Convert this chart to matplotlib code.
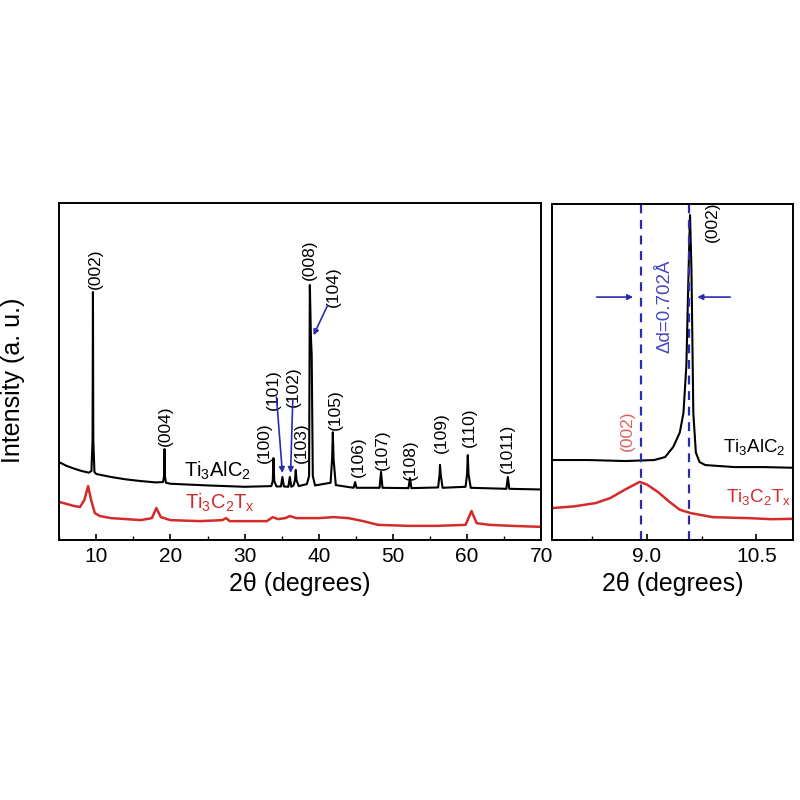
import matplotlib
matplotlib.use("Agg")
import matplotlib.pyplot as plt
from matplotlib.ticker import MultipleLocator, FormatStrFormatter

plt.rcParams['font.family'] = ['Liberation Sans', 'DejaVu Sans']
plt.rcParams['mathtext.fontset'] = 'custom'
plt.rcParams['mathtext.rm'] = 'Liberation Sans'
plt.rcParams['mathtext.it'] = 'Liberation Sans'

BLUE = '#2b2bb0'
RED = '#d42a2a'

# ---- full scan, Ti3AlC2 (black) ----
alc_x = [5, 6, 7, 8, 9, 9.35, 9.5, 9.55, 9.6, 9.75, 10, 12, 14, 16, 18,
         19.0, 19.15, 19.2, 19.25, 19.4, 20, 25, 30, 33.6, 33.8, 33.9, 34.0,
         34.3, 34.9, 35.1, 35.3, 35.9, 36.1, 36.3, 36.6, 36.8, 36.9, 37.0,
         37.3, 38.4, 38.7, 38.8, 38.95, 39.05, 39.2, 39.5, 41.6, 41.8, 41.9,
         42.0, 42.3, 44.7, 44.9, 45.1, 48.2, 48.4, 48.6, 52.1, 52.3, 52.5,
         56.1, 56.3, 56.35, 56.45, 56.7, 59.8, 60.0, 60.1, 60.2, 60.5, 65.3,
         65.5, 65.7, 70]
alc_y = [23.1, 22.0, 21.2, 20.5, 20.0, 20.5, 30, 73.6, 30, 20.2, 19.6, 18.7,
         18.0, 17.5, 17.1, 17.2, 19, 27.0, 19, 17.0, 16.7, 16.2, 15.8, 16.0,
         17.5, 24.3, 17.5, 15.9, 15.9, 18.7, 15.9, 15.8, 18.7, 15.8, 16.2,
         17.8, 20.8, 17.8, 16.0, 16.6, 19, 75.7, 60, 55, 19, 16.2, 17, 24,
         32.0, 24, 16.3, 15.5, 17.2, 15.5, 15.5, 20.2, 15.5, 15.4, 18.4, 15.4,
         15.6, 19.5, 22.3, 19.5, 15.5, 15.8, 19.5, 25.2, 19.5, 15.5, 15.2,
         18.7, 15.2, 15.0]

# ---- full scan, Ti3C2Tx (red) ----
ctx_x = [5, 6, 7, 7.8, 8.4, 8.9, 9.3, 9.8, 10.5, 12, 14, 16, 17.5, 18.1, 18.7,
         20, 24, 27, 27.5, 28, 30, 33, 33.8, 34.5, 35.5, 36.1, 37, 40, 42, 44,
         46, 48, 52, 56, 59.8, 60.6, 61.3, 63, 66, 70]
ctx_y = [11.3, 10.7, 10.1, 9.8, 11.9, 16.0, 11.9, 8.0, 7.1, 6.5, 6.2, 5.9,
         6.5, 9.5, 6.8, 5.9, 5.6, 5.9, 6.5, 5.6, 5.6, 5.6, 6.8, 6.2, 6.5, 7.1,
         6.5, 6.5, 6.8, 6.5, 5.6, 4.5, 4.2, 4.2, 4.5, 8.6, 5.0, 4.5, 4.2, 3.9]

# peak labels: (text, x, y of label bottom)
hkl_text = ['(002)', '(004)', '(100)', '(101)', '(102)', '(103)', '(008)',
            '(104)', '(105)', '(106)', '(107)', '(108)', '(109)', '(110)',
            '(1011)']
hkl_x = [9.9, 19.3, 32.7, 33.9, 36.6, 37.6, 38.8, 42.0, 42.2, 45.3, 48.6,
         52.4, 56.5, 60.3, 65.5]
hkl_y = [74.5, 28.0, 22.8, 38.6, 39.5, 22.8, 77.2, 69.1, 32.6, 18.7, 20.8,
         17.8, 25.8, 27.6, 19.9]

# ---- zoom on the (002) peak ----
zalc_x = [7.7, 8.2, 8.7, 9.1, 9.25, 9.36, 9.45, 9.5, 9.54, 9.57, 9.59, 9.61,
          9.635, 9.67, 9.72, 9.8, 10.2, 10.6, 11.0]
zalc_y = [23.8, 23.8, 23.5, 23.8, 24.7, 27.7, 32, 37.8, 52, 80, 96.7, 80,
          37.8, 26, 23.2, 22.3, 21.7, 21.7, 21.5]
zctx_x = [7.7, 8.0, 8.3, 8.5, 8.7, 8.9, 9.0, 9.15, 9.3, 9.45, 9.6, 9.9, 10.4,
          10.7, 11.0]
zctx_y = [9.5, 10.0, 11.0, 12.5, 15.0, 17.3, 16.5, 14.3, 11.5, 9.0, 8.0, 6.8,
          6.5, 6.2, 6.3]
peak_ctx = 8.92
peak_alc = 9.58

fig = plt.figure(figsize=(8, 8), dpi=100)
ax1 = fig.add_axes([0.074, 0.325, 0.6025, 0.421])
ax2 = fig.add_axes([0.69, 0.325, 0.30125, 0.42])

for ax in (ax1, ax2):
    for s in ax.spines.values():
        s.set_linewidth(1.4)
    ax.set_ylim(0, 100)
    ax.set_yticks([])
    ax.tick_params(axis='x', direction='in', which='major', length=4.5,
                   width=1.2, labelsize=15, pad=5)
    ax.tick_params(axis='x', direction='in', which='minor', length=2.8,
                   width=1.0)

ax1.plot(alc_x, alc_y, color='black', lw=1.5)
ax1.plot(ctx_x, ctx_y, color=RED, lw=1.8)
ax1.set_xlim(5, 70)
ax1.xaxis.set_major_locator(MultipleLocator(10))
ax1.xaxis.set_minor_locator(MultipleLocator(5))
ax1.set_xlabel('2θ (degrees)', fontsize=18, labelpad=4)
ax1.set_ylabel('Intensity (a. u.)', fontsize=18)
ax1.yaxis.set_label_coords(-0.07, 0.475)

for t, x, y in zip(hkl_text, hkl_x, hkl_y):
    ax1.text(x, y, t, rotation=90, ha='center', va='bottom', fontsize=12.5)

arrow = dict(arrowstyle='-|>', color=BLUE, lw=1.2, mutation_scale=8,
             shrinkA=0, shrinkB=0)
ax1.annotate('', xy=(35.1, 19.9), xytext=(34.3, 42.4), arrowprops=arrow)
ax1.annotate('', xy=(36.2, 19.9), xytext=(36.5, 41.5), arrowprops=arrow)
ax1.annotate('', xy=(39.3, 60.8), xytext=(41.2, 69.7), arrowprops=arrow)

ax1.text(21.8, 20.5, r'Ti$_3$AlC$_2$', fontsize=14.5, ha='left', va='center')
ax1.text(22.0, 11.0, r'Ti$_3$C$_2$T$_x$', fontsize=14.5, ha='left',
         va='center', color=RED)

ax2.plot(zalc_x, zalc_y, color='black', lw=1.5)
ax2.plot(zctx_x, zctx_y, color=RED, lw=1.8)
ax2.set_xlim(7.7, 11.0)
ax2.xaxis.set_major_locator(MultipleLocator(1.5))
ax2.xaxis.set_minor_locator(MultipleLocator(0.75))
ax2.xaxis.set_major_formatter(FormatStrFormatter('%.1f'))
ax2.set_xlabel('2θ (degrees)', fontsize=18, labelpad=4)

for xv in (peak_ctx, peak_alc):
    ax2.axvline(xv, color=BLUE, lw=1.6, ls=(0, (4, 3)))
ax2.annotate('', xy=(8.81, 72.3), xytext=(8.31, 72.3), arrowprops=arrow)
ax2.annotate('', xy=(9.69, 72.3), xytext=(10.14, 72.3), arrowprops=arrow)
ax2.text(9.25, 69.6, 'Δd=0.702Å', rotation=90, ha='center', va='center',
         fontsize=13.5, color='#4848c0')
ax2.text(9.9, 94.6, '(002)', rotation=90, ha='center', va='center',
         fontsize=12.5)
ax2.text(8.73, 32.4, '(002)', rotation=90, ha='center', va='center',
         fontsize=12.5, color='#e06060')
ax2.text(10.04, 27.7, r'Ti$_3$AlC$_2$', fontsize=13.5, ha='left',
         va='center', clip_on=True)
ax2.text(10.08, 12.8, r'Ti$_3$C$_2$T$_x$', fontsize=13.5, ha='left',
         va='center', color=RED)

fig.savefig('out.png', dpi=100, facecolor='white')
